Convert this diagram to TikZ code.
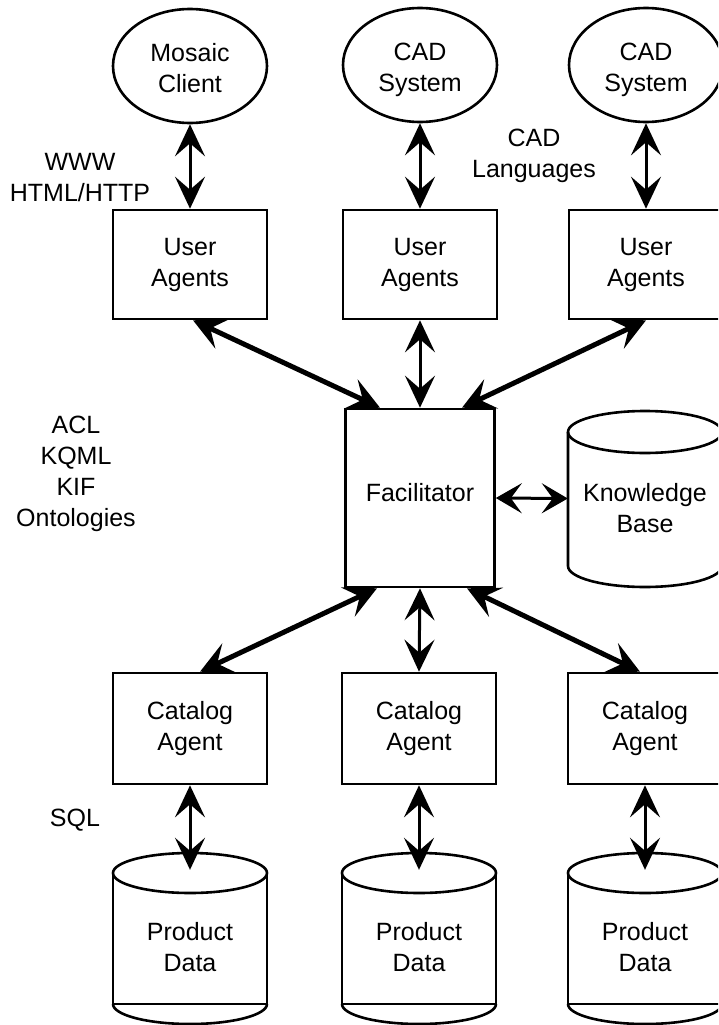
\documentclass[tikz,border=0pt]{standalone}
\usepackage{fontspec}
\setmainfont{Liberation Sans}
\usetikzlibrary{arrows.meta,shapes.geometric}
\begin{document}
\begin{tikzpicture}[x=1pt,y=-1pt,
  txt/.style={font=\fontsize{25}{31}\selectfont, align=center, inner sep=0pt},
  box/.style={txt, draw, line width=2.6pt, rectangle, minimum width=154pt, minimum height=109pt},
  oval/.style={draw, line width=2.6pt, ellipse, inner sep=0pt, minimum width=154pt, minimum height=114pt},
  ghost/.style={inner sep=0pt, rectangle},
  outline/.style={line width=2.6pt},
  vbi/.style={line width=3pt, <->, >={Stealth[length=32pt,width=30pt,inset=13pt]}},
  dbi/.style={line width=5pt, <->, >={Stealth[length=32pt,width=32pt,inset=13pt]}},
  hbi/.style={line width=3pt, <->, >={Stealth[length=26pt,width=30pt,inset=11pt]}}
]
\useasboundingbox (0,0) rectangle (718,1025);
\clip (0,0) rectangle (718,1025);

% top ellipses
\node[oval] (m1) at (190,66) {};
\node[txt] (m1text) at (190,68) {Mosaic\\Client};
\node[oval] (c2) at (420,65) {};
\node[txt] (c2text) at (420,70) {CAD\\System};
\node[oval] (c3) at (646,65) {};
\node[txt] (c3text) at (646,70) {CAD\\System};

% user agents
\node[box] (u1) at (190,264.5) {User\\Agents};
\node[box] (u2) at (420,264.5) {User\\Agents};
\node[box] (u3) at (646,264.5) {User\\Agents};

% facilitator
\node[box, minimum width=149pt, minimum height=178pt] (fac) at (420,498) {};
\node[txt] (factext) at (420,493) {Facilitator};

% knowledge base cylinder
\draw[outline] (645,432) ellipse [x radius=77, y radius=21];
\draw[outline] (568,432) -- (568,566) .. controls (568,577.6) and (602.5,587) .. (645,587)
  .. controls (687.5,587) and (722,577.6) .. (722,566) -- (722,432);
\node[ghost, minimum width=154pt, minimum height=177pt] (kb) at (645,498.5) {};
\node[txt] (kbtext) at (645,508) {Knowledge\\Base};

% catalog agents
\node[box, minimum height=111pt] (ca1) at (190,728.5) {Catalog\\Agent};
\node[box, minimum height=111pt] (ca2) at (419,728.5) {Catalog\\Agent};
\node[box, minimum height=111pt] (ca3) at (645,728.5) {Catalog\\Agent};

% product data cylinders
\foreach \cx/\nm in {190/p1,419/p2,645/p3}{
  \draw[outline] (\cx,873) ellipse [x radius=77, y radius=20];
  \draw[outline] (\cx-77,873) -- (\cx-77,1004) -- (\cx+77,1004) -- (\cx+77,873);
  \draw[outline] (\cx-77,1004) .. controls (\cx-77,1015) and (\cx-42.5,1024) .. (\cx,1024)
    .. controls (\cx+42.5,1024) and (\cx+77,1015) .. (\cx+77,1004);
  \node[ghost, minimum width=154pt, minimum height=171pt] (\nm) at (\cx,938.5) {};
  \node[txt] (\nm text) at (\cx,947.5) {Product\\Data};
}

% side labels
\node[txt] (www) at (80,178) {WWW\\HTML/HTTP};
\node[txt] (cadl) at (534,156) {CAD\\Languages};
\node[txt] (acl) at (76,474) {ACL\\KQML\\KIF\\Ontologies};
\node[txt] (sql) at (75,820) {SQL};

% connectors: clients <-> user agents
\draw[vbi] (m1.south) -- (u1.north);
\draw[vbi] (c2.south) -- (u2.north);
\draw[vbi] (c3.south) -- (u3.north);

% user agents <-> facilitator
\draw[dbi] ([xshift=3pt]u1.south) -- ([xshift=-40pt]fac.north);
\draw[vbi] (u2.south) -- (fac.north);
\draw[dbi] (u3.south) -- ([xshift=42pt]fac.north);

% facilitator <-> knowledge base
\draw[hbi] (fac.east) -- (kb.west);

% facilitator <-> catalog agents
\draw[dbi] ([xshift=-43pt]fac.south) -- ([xshift=10pt]ca1.north);
\draw[vbi] (fac.south) -- (ca2.north);
\draw[dbi] ([xshift=47pt]fac.south) -- ([xshift=-5pt]ca3.north);

% catalog agents <-> product data
\draw[vbi] (ca1.south) -- ([yshift=-17pt]p1.north);
\draw[vbi] (ca2.south) -- ([yshift=-17pt]p2.north);
\draw[vbi] (ca3.south) -- ([yshift=-17pt]p3.north);
\end{tikzpicture}
\end{document}
